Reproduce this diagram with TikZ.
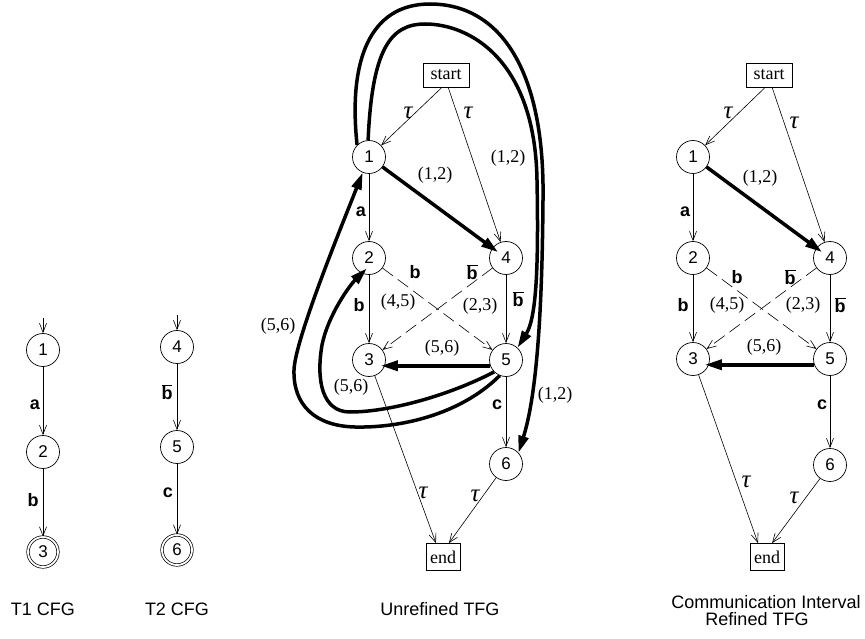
\documentclass[tikz,border=0pt]{standalone}
\usepackage{fontspec}
\setmainfont{Liberation Serif}
\setsansfont{Liberation Sans}
\usetikzlibrary{arrows.meta}
\newcommand{\bbar}{\ensuremath{\overline{\mbox{b}}}}
\begin{document}
\begin{tikzpicture}[x=1pt,y=-1pt,
  st/.style={circle,draw,line width=0.7pt,minimum size=33pt,inner sep=0pt,font=\sffamily\fontsize{17}{17}\selectfont},
  fin/.style={st,minimum size=30pt,double,double distance=1.8pt},
  sbox/.style={draw,line width=0.7pt,inner sep=0pt,minimum width=46pt,minimum height=24pt,font=\rmfamily\fontsize{18}{18}\selectfont},
  ebox/.style={draw,line width=0.7pt,inner sep=0pt,minimum width=34pt,minimum height=27pt,font=\rmfamily\fontsize{18}{18}\selectfont},
  thn/.style={line width=0.6pt,-{Straight Barb[length=9pt,width=7pt]}},
  dsh/.style={thn,dash pattern=on 13pt off 6pt},
  thk/.style={line width=3.5pt,-{Triangle[length=17pt,width=10pt]}},
  lbl/.style={font=\sffamily\bfseries\fontsize{18}{18}\selectfont,inner sep=0pt},
  num/.style={font=\rmfamily\fontsize{18}{18}\selectfont,inner sep=0pt},
  tau/.style={font=\rmfamily\itshape\fontsize{25}{25}\selectfont,inner sep=0pt},
  captxt/.style={font=\sffamily\fontsize{18}{18}\selectfont,inner sep=0pt}
]
\useasboundingbox (0,0) rectangle (865,639);

% ---------- T1 CFG ----------
\node[st] (a1) at (43,350) {1};
\node[st] (a2) at (43,452) {2};
\node[fin] (a3) at (43,552) {3};
\coordinate (ea) at (43,318);
\draw[thn] (ea) -- (a1);
\draw[thn] (a1) -- (a2);
\draw[thn] (a2) -- (a3);
\node[lbl] (la) at (35,405) {a};
\node[lbl] (lb) at (33,500) {b};
\node[captxt] (c1) at (43,609) {T1 CFG};

% ---------- T2 CFG ----------
\node[st] (b4) at (177,347) {4};
\node[st] (b5) at (177,447) {5};
\node[fin] (b6) at (177,550) {6};
\coordinate (eb) at (177,315);
\draw[thn] (eb) -- (b4);
\draw[thn] (b4) -- (b5);
\draw[thn] (b5) -- (b6);
\node[lbl] (lbb) at (167,392) {\bbar};
\node[lbl] (lc) at (168,493) {c};
\node[captxt] (c2) at (177,609) {T2 CFG};

% ---------- Unrefined TFG ----------
\node[sbox] (ms) at (446,75) {start};
\node[st] (m1) at (369,157) {1};
\node[st] (m2) at (369,258) {2};
\node[st] (m4) at (506,258) {4};
\node[st] (m3) at (369,360) {3};
\node[st] (m5) at (506,360) {5};
\node[st] (m6) at (506,464) {6};
\node[ebox] (me) at (443,557) {end};

\draw[thn] (ms.-108) -- (m1);
\draw[thn] (ms.-80) -- (m4);
\draw[thn] (m1) -- (m2);
\draw[thn] (m2) -- (m3);
\draw[thn] (m4) -- (m5);
\draw[dsh] (m2) -- (m5);
\draw[dsh] (m4) -- (m3);
\draw[thn] (m5) -- (m6);
\draw[thn] (m3) -- (me.117);
\draw[thn] (m6) -- (me.67);
\draw[thk,shorten >=-7pt] (m1) -- (m4);
\draw[thk,shorten >=-4pt] (m5.200) -- (m3.-20);

% big loops
\draw[thk] (m1.93) .. controls (372,50) and (390,24) .. (425,24)
  .. controls (470,24) and (535,60) .. (537,180)
  .. controls (539,280) and (535,320) .. (m5.47);
\draw[thk] (m1.135) .. controls (348,60) and (370,4) .. (430,4)
  .. controls (500,4) and (545,70) .. (543,200)
  .. controls (542,330) and (535,400) .. (m6.42);
\draw[thk] (m5.-112) .. controls (460,415) and (400,428) .. (355,427)
  .. controls (315,426) and (293,405) .. (294,370)
  .. controls (295,340) and (340,230) .. (m1.-112);
\draw[thk,shorten >=-7pt] (m5.-135) .. controls (450,395) and (390,412) .. (350,412)
  .. controls (322,412) and (316,380) .. (322,345)
  .. controls (328,315) and (350,285) .. (m2.-115);

\node[tau] (mt1) at (408,113) {τ};
\node[tau] (mt2) at (468,113) {τ};
\node[num] (m12a) at (435,175) {(1,2)};
\node[num] (m12b) at (508,158) {(1,2)};
\node[num] (m12c) at (555,395) {(1,2)};
\node[lbl] (ma) at (361,212) {a};
\node[lbl] (mb1) at (415,272) {b};
\node[lbl] (mbb1) at (472,272) {\bbar};
\node[lbl] (mb2) at (359,305) {b};
\node[num] (m45) at (398,302) {(4,5)};
\node[num] (m23) at (480,306) {(2,3)};
\node[lbl] (mbb2) at (518,299) {\bbar};
\node[num] (m56a) at (442,348) {(5,6)};
\node[num] (m56b) at (351,387) {(5,6)};
\node[num] (m56c) at (278,326) {(5,6)};
\node[lbl] (mc) at (497,405) {c};
\node[tau] (mt3) at (423,493) {τ};
\node[tau] (mt4) at (475,496) {τ};
\node[captxt] (c3) at (440,609) {Unrefined TFG};

% ---------- Refined TFG ----------
\node[sbox] (rs) at (769,75) {start};
\node[st] (r1) at (693,157) {1};
\node[st] (r2) at (693,258) {2};
\node[st] (r4) at (830,258) {4};
\node[st] (r3) at (693,359) {3};
\node[st] (r5) at (830,359) {5};
\node[st] (r6) at (830,465) {6};
\node[ebox] (re) at (767,557) {end};

\draw[thn] (rs.-107) -- (r1);
\draw[thn] (rs.-76) -- (r4);
\draw[thn] (r1) -- (r2);
\draw[thn] (r2) -- (r3);
\draw[thn] (r4) -- (r5);
\draw[dsh] (r2) -- (r5);
\draw[dsh] (r4) -- (r3);
\draw[thn] (r5) -- (r6);
\draw[thn] (r3) -- (re.123);
\draw[thn] (r6) -- (re.70);
\draw[thk,shorten >=-7pt] (r1) -- (r4);
\draw[thk,shorten >=-4pt] (r5.200) -- (r3.-20);

\node[tau] (rt1) at (728,113) {τ};
\node[tau] (rt2) at (794,123) {τ};
\node[num] (r12) at (760,178) {(1,2)};
\node[lbl] (ra) at (685,212) {a};
\node[lbl] (rb1) at (737,277) {b};
\node[lbl] (rbb1) at (790,277) {\bbar};
\node[lbl] (rb2) at (683,305) {b};
\node[num] (r45) at (727,305) {(4,5)};
\node[num] (r23) at (803,305) {(2,3)};
\node[lbl] (rbb2) at (840,305) {\bbar};
\node[num] (r56) at (764,347) {(5,6)};
\node[lbl] (rc) at (822,405) {c};
\node[tau] (rt3) at (746,482) {τ};
\node[tau] (rt4) at (794,498) {τ};
\node[captxt] (c4a) at (766,602) {Communication Interval};
\node[captxt] (c4b) at (757,619) {Refined TFG};
\end{tikzpicture}
\end{document}
